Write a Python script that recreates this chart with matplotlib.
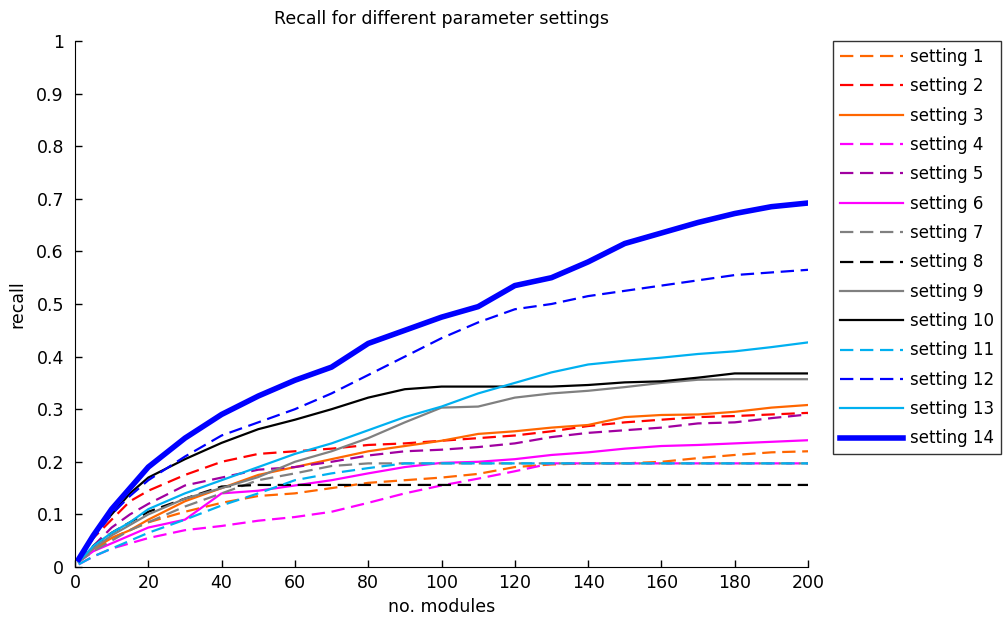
import matplotlib
matplotlib.use("Agg")
import matplotlib.pyplot as plt

modules = [1, 5, 10, 15, 20, 30, 40, 50, 60, 70, 80, 90, 100,
           110, 120, 130, 140, 150, 160, 170, 180, 190, 200]

recall_s1 = [0.01, 0.03, 0.055, 0.07, 0.085, 0.105, 0.122, 0.135, 0.14, 0.15, 0.16, 0.165, 0.17,
             0.177, 0.19, 0.195, 0.197, 0.197, 0.2, 0.207, 0.213, 0.218, 0.22]
recall_s2 = [0.015, 0.055, 0.09, 0.125, 0.145, 0.175, 0.2, 0.215, 0.22, 0.225, 0.232, 0.235, 0.24,
             0.245, 0.25, 0.258, 0.268, 0.275, 0.28, 0.285, 0.287, 0.29, 0.293]
recall_s3 = [0.01, 0.035, 0.055, 0.07, 0.09, 0.125, 0.15, 0.175, 0.19, 0.205, 0.22, 0.23, 0.24,
             0.253, 0.258, 0.265, 0.27, 0.285, 0.289, 0.29, 0.295, 0.303, 0.308]
recall_s4 = [0.005, 0.02, 0.035, 0.045, 0.055, 0.07, 0.078, 0.088, 0.095, 0.105, 0.122, 0.14, 0.155,
             0.168, 0.182, 0.197, 0.197, 0.197, 0.197, 0.197, 0.197, 0.197, 0.197]
recall_s5 = [0.01, 0.04, 0.075, 0.1, 0.12, 0.155, 0.17, 0.185, 0.19, 0.2, 0.212, 0.22, 0.223,
             0.228, 0.235, 0.247, 0.255, 0.26, 0.265, 0.273, 0.275, 0.283, 0.29]
recall_s6 = [0.01, 0.03, 0.045, 0.06, 0.075, 0.09, 0.14, 0.145, 0.155, 0.165, 0.178, 0.19, 0.198,
             0.2, 0.205, 0.213, 0.218, 0.225, 0.23, 0.232, 0.235, 0.238, 0.241]
recall_s7 = [0.01, 0.03, 0.05, 0.07, 0.085, 0.115, 0.14, 0.165, 0.178, 0.192, 0.197, 0.197, 0.197,
             0.197, 0.197, 0.197, 0.197, 0.197, 0.197, 0.197, 0.197, 0.197, 0.197]
recall_s8 = [0.01, 0.04, 0.065, 0.085, 0.105, 0.13, 0.153, 0.156, 0.156, 0.156, 0.156, 0.156, 0.156,
             0.156, 0.156, 0.156, 0.156, 0.156, 0.156, 0.156, 0.156, 0.156, 0.156]
recall_s9 = [0.01, 0.035, 0.06, 0.08, 0.1, 0.13, 0.15, 0.171, 0.2, 0.22, 0.245, 0.275, 0.303,
             0.305, 0.322, 0.33, 0.335, 0.342, 0.35, 0.356, 0.357, 0.357, 0.357]
recall_s10 = [0.015, 0.06, 0.1, 0.14, 0.17, 0.205, 0.236, 0.262, 0.28, 0.3, 0.322, 0.338, 0.343,
              0.343, 0.343, 0.343, 0.346, 0.351, 0.353, 0.36, 0.368, 0.368, 0.368]
recall_s11 = [0.005, 0.02, 0.035, 0.05, 0.065, 0.09, 0.117, 0.14, 0.165, 0.178, 0.188, 0.197, 0.197,
              0.197, 0.197, 0.197, 0.197, 0.197, 0.197, 0.197, 0.197, 0.197, 0.197]
recall_s12 = [0.015, 0.055, 0.1, 0.135, 0.165, 0.21, 0.25, 0.275, 0.3, 0.33, 0.365, 0.4, 0.435,
              0.465, 0.49, 0.5, 0.515, 0.525, 0.535, 0.545, 0.555, 0.56, 0.565]
recall_s13 = [0.01, 0.04, 0.065, 0.085, 0.11, 0.14, 0.165, 0.19, 0.215, 0.235, 0.26, 0.285, 0.305,
              0.33, 0.35, 0.37, 0.385, 0.392, 0.398, 0.405, 0.41, 0.418, 0.427]
recall_s14 = [0.015, 0.06, 0.11, 0.15, 0.19, 0.245, 0.29, 0.325, 0.355, 0.38, 0.425, 0.45, 0.475,
              0.495, 0.535, 0.55, 0.58, 0.615, 0.635, 0.655, 0.672, 0.685, 0.692]

labels = ["setting %d" % i for i in range(1, 15)]
xticks = [0, 20, 40, 60, 80, 100, 120, 140, 160, 180, 200]
yticks = [0, 0.1, 0.2, 0.3, 0.4, 0.5, 0.6, 0.7, 0.8, 0.9, 1]
ytick_labels = ["0", "0.1", "0.2", "0.3", "0.4", "0.5", "0.6", "0.7", "0.8", "0.9", "1"]

ORANGE = "#FF6600"
MAGENTA = "#FF00FF"
PURPLE = "#A000A0"
GRAY = "#808080"
SKY = "#00B0F0"
BLUE = "#0000FF"

# (serie, color, estilo, grosor)
estilos = [
    (recall_s1, ORANGE, "--", 1.6),
    (recall_s2, "#FF0000", "--", 1.6),
    (recall_s3, ORANGE, "-", 1.6),
    (recall_s4, MAGENTA, "--", 1.6),
    (recall_s5, PURPLE, "--", 1.6),
    (recall_s6, MAGENTA, "-", 1.6),
    (recall_s7, GRAY, "--", 1.6),
    (recall_s8, "black", "--", 1.6),
    (recall_s9, GRAY, "-", 1.6),
    (recall_s10, "black", "-", 1.6),
    (recall_s11, SKY, "--", 1.6),
    (recall_s12, BLUE, "--", 1.6),
    (recall_s13, SKY, "-", 1.6),
    (recall_s14, BLUE, "-", 4),
]

plt.rcParams["font.family"] = "DejaVu Sans"

fig = plt.figure(figsize=(10.06, 6.22), dpi=100)
ax = fig.add_axes([75 / 1006, 1 - 567 / 622, 733 / 1006, 526 / 622])

for serie, color, ls, lw in estilos:
    line, = ax.plot(modules, serie, color=color, linestyle=ls, linewidth=lw)
    if ls == "--":
        line.set_dashes((6, 3))

ax.set_xlim(0, 200)
ax.set_ylim(0, 1)
ax.set_xticks(xticks)
ax.set_yticks(yticks)
ax.set_yticklabels(ytick_labels)
ax.tick_params(direction="in", length=5, width=1, labelsize=12.5)
ax.tick_params(axis="y", pad=8)
ax.tick_params(axis="x", pad=5)
ax.spines["top"].set_visible(False)
ax.spines["right"].set_visible(False)

ax.set_title("Recall for different parameter settings", fontsize=12.5, pad=12)
ax.set_xlabel("no. modules", fontsize=12.5, labelpad=4)
ax.set_ylabel("recall", fontsize=12.5, labelpad=7)

leg = fig.legend(ax.get_lines(), labels, loc="upper left",
                 bbox_to_anchor=(833 / 1006, 1 - 41 / 622), borderaxespad=0,
                 fontsize=12, handlelength=3.8, handletextpad=0.4,
                 labelspacing=0.68, borderpad=0.42, fancybox=False)
leg.get_frame().set_edgecolor("black")
leg.get_frame().set_linewidth(1)

fig.savefig("out.png", dpi=100)
